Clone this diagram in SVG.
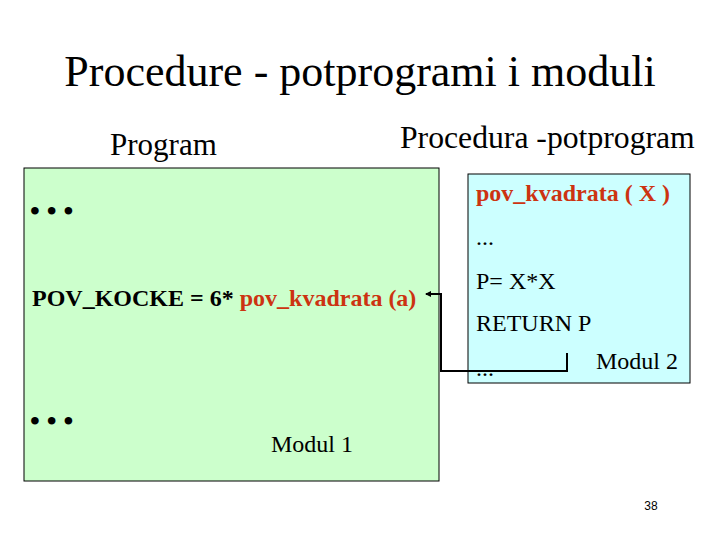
<svg xmlns="http://www.w3.org/2000/svg" width="720" height="540" viewBox="0 0 720 540">
<style>
.t{font-family:"Liberation Serif","Times New Roman",serif;fill:#000}
.b{font-weight:bold}
.r{fill:#CC3311}
</style>
<defs>
<marker id="ah" markerWidth="6" markerHeight="6" refX="5" refY="3" orient="auto" markerUnits="userSpaceOnUse">
<path d="M0,0 L6,3 L0,6 Z" fill="#000"/>
</marker>
</defs>
<rect width="720" height="540" fill="#fff"/>
<text class="t" x="360" y="86" font-size="44" text-anchor="middle">Procedure - potprogrami i moduli</text>
<text class="t" x="110" y="155" font-size="31">Program</text>
<text class="t" x="400" y="148" font-size="31.7">Procedura -potprogram</text>
<g id="modul1">
<rect x="24" y="168" width="415" height="313" fill="#CCFFCC" stroke="#000" stroke-width="1"/>
<text class="t b" x="30" y="220" font-size="28">• • •</text>
<text class="t b" x="32" y="306" font-size="24">POV_KOCKE = 6* <tspan class="r">pov_kvadrata (a)</tspan></text>
<text class="t b" x="30" y="430" font-size="28">• • •</text>
<text class="t" x="271" y="452" font-size="24">Modul 1</text>
</g>
<g id="modul2">
<rect x="468" y="174" width="222" height="209" fill="#CCFFFF" stroke="#000" stroke-width="1"/>
<text class="t b r" x="476" y="201" font-size="24">pov_kvadrata ( X )</text>
<text class="t" x="476" y="245" font-size="24">...</text>
<text class="t" x="476" y="289" font-size="24">P= X*X</text>
<text class="t" x="476" y="331" font-size="24">RETURN P</text>
<text class="t" x="476" y="376" font-size="24">...</text>
<text class="t" x="596" y="369" font-size="24">Modul 2</text>
</g>
<g id="connectors">
<polyline points="567,353 567,371 441,371 441,294 426,294" fill="none" stroke="#000" stroke-width="2" marker-end="url(#ah)"/>
</g>
<text x="651" y="510" font-family="Liberation Sans,Arial,sans-serif" font-size="12" text-anchor="middle">38</text>
</svg>
